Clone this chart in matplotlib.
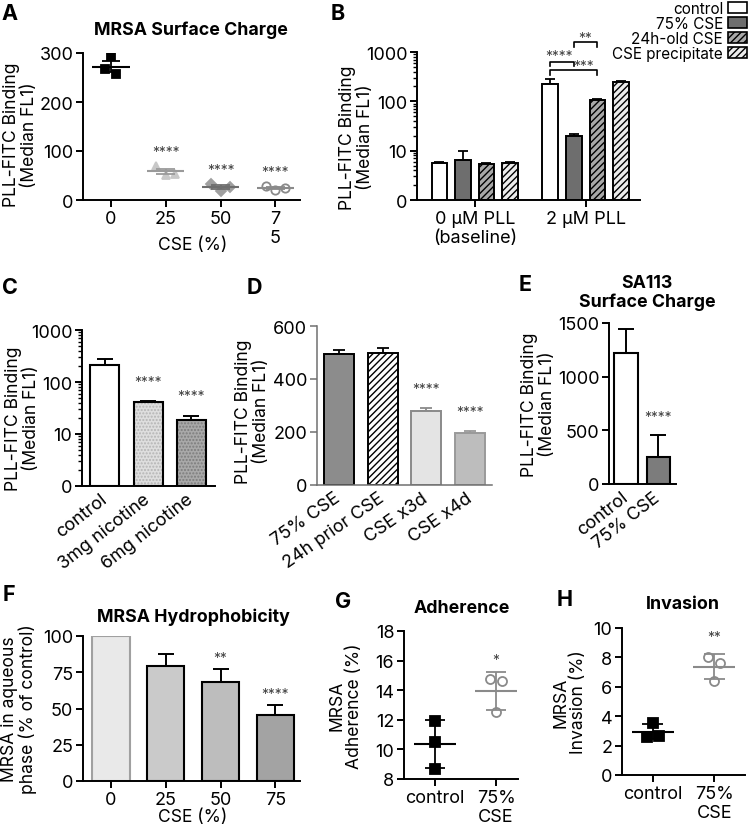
import matplotlib
matplotlib.use('Agg')
import matplotlib.pyplot as plt
import numpy as np
from matplotlib.patches import Patch

plt.rcParams['font.family'] = ['Inter', 'DejaVu Sans']
plt.rcParams['hatch.linewidth'] = 1.0

TICK_FS = 13
LAB_FS = 12.6

# ---- data ----
# A: MRSA surface charge (scatter, mean +/- SEM)
a_labels = ['0', '25', '50', '7\n5']
a_points = [[293, 267, 257], [70, 51, 54], [32, 19, 27], [29, 21, 25]]

# B: PLL binding, log scale
b_groups = ['0 µM PLL\n(baseline)', '2 µM PLL']
b_series = ['control', '75% CSE', '24h-old CSE', 'CSE precipitate']
b_control = [5.6, 222]
b_cse75 = [6.6, 19.6]
b_old = [5.4, 106]
b_precip = [5.75, 247]
b_control_err = [0.2, 66]
b_cse75_err = [3.1, 2.3]
b_old_err = [0.2, 5]
b_precip_err = [0.25, 16]

# C: nicotine
c_labels = ['control', '3mg nicotine', '6mg nicotine']
c_values = [210, 41.7, 18.2]
c_err = [67, 1.1, 4.2]

# D: CSE exposure
d_labels = ['75% CSE', '24h prior CSE', 'CSE x3d', 'CSE x4d']
d_values = [495, 498, 281, 197]
d_err = [13, 19, 9, 5]

# E: SA113
e_labels = ['control', '75% CSE']
e_values = [1217, 248]
e_err = [227, 212]

# F: hydrophobicity
f_labels = ['0', '25', '50', '75']
f_values = [100, 79.3, 68.3, 45.3]
f_err = [0, 8.5, 8.7, 7.3]

# G / H: adherence and invasion (mean +/- SD)
gh_labels = ['control', '75%\nCSE']
g_control = [11.94, 10.48, 8.68]
g_cse = [14.76, 14.64, 12.5]
h_control = [3.52, 2.61, 2.66]
h_cse = [8.05, 7.61, 6.41]

W, H = 750, 829
fig = plt.figure(figsize=(W / 100, H / 100), dpi=100)


def add_ax(l, t, r, b):
    return fig.add_axes([l / W, 1 - b / H, (r - l) / W, (b - t) / H])


def style(ax, color='black', lw=1.4):
    for s in ['top', 'right']:
        ax.spines[s].set_visible(False)
    for s in ['left', 'bottom']:
        ax.spines[s].set_linewidth(lw)
        ax.spines[s].set_color(color)
    ax.tick_params(direction='out', length=5, width=lw, labelsize=TICK_FS, pad=2, color=color)


def ylab(ax, text, right_px, l, r, yfrac=0.5):
    ax.set_ylabel(text, fontsize=LAB_FS, linespacing=1.05)
    ax.yaxis.set_label_coords((right_px - l) / (r - l), yfrac)


def stars(ax, x, y, s, off=8):
    ax.annotate(s, xy=(x, y), xytext=(0, off), textcoords='offset points',
                ha='center', va='center', fontsize=10, color='#444444')


def letter(x, y, s):
    fig.text(x / W, 1 - y / H, s, fontsize=15.5, fontweight='bold', ha='center', va='center')


def title(x, y, s):
    fig.text(x / W, 1 - y / H, s, fontsize=12.8, fontweight='bold', ha='center', va='center',
             linespacing=1.1)


# ---------------- A ----------------
ax = add_ax(83, 54, 300, 201)
style(ax)
a_x = np.arange(len(a_labels))
a_markers = [dict(marker='s', color='black', mfc='black'),
             dict(marker='^', color='#c8c8c8', mfc='#c8c8c8'),
             dict(marker='D', color='#a0a0a0', mfc='#a0a0a0'),
             dict(marker='o', color='#8a8a8a', mfc='none')]
a_line = ['black', '#9a9a9a', '#6e6e6e', '#8a8a8a']
a_jit = [[0.0, -0.1, 0.1], [-0.17, 0.0, 0.17], [-0.17, 0.0, 0.17], [-0.17, 0.0, 0.17]]
for i, pts in enumerate(a_points):
    m = a_markers[i]
    ms = 6 if m['marker'] != 'D' else 5
    ax.plot(a_x[i] + np.array(a_jit[i]), pts, ls='none', marker=m['marker'], ms=ms,
            mfc=m['mfc'], mec=m['color'], mew=1.3, zorder=3)
    mean = np.mean(pts)
    sem = np.std(pts, ddof=1) / np.sqrt(len(pts))
    ax.hlines(mean, a_x[i] - 0.34, a_x[i] + 0.34, color=a_line[i], lw=1.5, zorder=4)
    ax.vlines(a_x[i], mean - sem, mean + sem, color=a_line[i], lw=1.3, zorder=4)
    ax.hlines([mean - sem, mean + sem], a_x[i] - 0.17, a_x[i] + 0.17, color=a_line[i], lw=1.3, zorder=4)
    if i > 0:
        stars(ax, a_x[i], max(pts), '****', off=10)
ax.set_xlim(-0.51, 3.45)
ax.set_ylim(0, 300)
ax.set_yticks([0, 100, 200, 300])
ax.set_xticks(a_x)
ax.set_xticklabels(a_labels, linespacing=1.15)
ylab(ax, 'PLL-FITC Binding\n(Median FL1)', 38, 83, 300, 0.45)
fig.text(193 / W, 1 - 245 / H, 'CSE (%)', fontsize=LAB_FS, ha='center', va='center')
title(191, 30, 'MRSA Surface Charge')
letter(10, 14, 'A')

# ---------------- B ----------------
ax = add_ax(417, 53, 640, 201)
style(ax)
ax.set_yscale('log')
bx = np.arange(len(b_groups))
bw = 0.142
offs = [-0.318, -0.106, 0.106, 0.318]
b_vals = [b_control, b_cse75, b_old, b_precip]
b_errs = [b_control_err, b_cse75_err, b_old_err, b_precip_err]
b_face = ['white', '#6e6e6e', '#a8a8a8', '#ececec']
b_hatch = [None, None, '/////', '/////']
handles = []
for k in range(4):
    v = np.array(b_vals[k])
    ax.bar(bx + offs[k], v - 1, bw, bottom=1, color=b_face[k], edgecolor='black',
           linewidth=1.4, hatch=b_hatch[k], zorder=2)
    ax.errorbar(bx + offs[k], v, yerr=[np.zeros(2), b_errs[k]], fmt='none', ecolor='black',
                elinewidth=1.3, capsize=3.6, capthick=1.3, zorder=1)
    handles.append(Patch(facecolor=b_face[k], edgecolor='black', linewidth=1.2, hatch=b_hatch[k]))
ax.set_ylim(1, 1000)
ax.set_yticks([1, 10, 100, 1000])
ax.set_yticklabels(['0', '10', '100', '1000'])
ax.tick_params(which='minor', direction='out', length=3, width=1.0)
ax.set_xlim(-0.52, 1.49)
ax.set_xticks(bx)
ax.set_xticklabels(b_groups, linespacing=1.15)
ylab(ax, 'PLL-FITC Binding\n(Median FL1)', 374, 417, 640, 0.43)
tr = ax.get_xaxis_transform()
xc, x75, xold = 1 + offs[0], 1 + offs[1], 1 + offs[2]
ax.plot([xc, xc, x75, x75], [0.907, 0.934, 0.934, 0.907], color='black', lw=1.2, transform=tr, clip_on=False)
ax.plot([xc, xc, xold, xold], [0.845, 0.880, 0.880, 0.845], color='black', lw=1.2, transform=tr, clip_on=False)
ax.plot([x75, x75, xold, xold], [1.032, 1.066, 1.066, 1.032], color='black', lw=1.2, transform=tr, clip_on=False)
ax.text(0.757, 0.975, '****', transform=tr, ha='center', va='center', fontsize=10, color='#444444')
ax.text(0.978, 0.905, '***', transform=tr, ha='center', va='center', fontsize=10, color='#444444')
ax.text(0.996, 1.095, '**', transform=tr, ha='center', va='center', fontsize=10, color='#444444')
fig.legend(handles, b_series, loc='upper right', bbox_to_anchor=(749 / W, 1.0), frameon=False,
           markerfirst=False, fontsize=11, labelspacing=0.0, handlelength=1.3, handleheight=0.75,
           handletextpad=0.3, borderpad=0.1, borderaxespad=0)
letter(338, 14, 'B')

# ---------------- C ----------------
ax = add_ax(82, 331, 215, 487)
style(ax)
ax.set_yscale('log')
cx = np.arange(len(c_labels))
c_face = ['white', '#dedede', '#a9a9a9']
c_dot = ['white', '#b4b4b4', '#7c7c7c']
c_v = np.array(c_values)
ax.bar(cx, c_v - 1, 0.67, bottom=1, color=c_face, edgecolor=c_dot, linewidth=0,
       hatch='.....', zorder=2)
ax.bar(cx, c_v - 1, 0.67, bottom=1, color='none', edgecolor='black', linewidth=1.5, zorder=3)
ax.errorbar(cx, c_v, yerr=[np.zeros(3), c_err], fmt='none', ecolor='black',
            elinewidth=1.4, capsize=5.6, capthick=1.4, zorder=1)
for i in [1, 2]:
    stars(ax, cx[i], c_values[i] + c_err[i], '****', off=14)
ax.set_ylim(1, 1000)
ax.set_yticks([1, 10, 100, 1000])
ax.set_yticklabels(['0', '10', '100', '1000'])
ax.tick_params(which='minor', direction='out', length=3, width=1.0)
ax.set_xlim(-0.53, 2.55)
ax.set_xticks(cx)
ax.set_xticklabels(c_labels, rotation=38, ha='right', va='center', rotation_mode='anchor')
ax.tick_params(axis='x', length=0, pad=8)
ylab(ax, 'PLL-FITC Binding\n(Median FL1)', 40, 82, 215, 0.44)
letter(10, 288, 'C')

# ---------------- D ----------------
ax = add_ax(317, 327, 492, 486)
style(ax, color='#707070', lw=1.1)
dx = np.arange(len(d_labels))
d_face = ['#8c8c8c', 'white', '#e4e4e4', '#bdbdbd']
d_edge = ['black', 'black', '#8a8a8a', '#9a9a9a']
d_hatch = [None, '/////', None, None]
for i in range(4):
    ax.bar(dx[i], d_values[i], 0.69, color=d_face[i], edgecolor=d_edge[i], linewidth=1.4,
           hatch=d_hatch[i], zorder=2)
    ax.errorbar(dx[i], d_values[i], yerr=[[0], [d_err[i]]], fmt='none', ecolor=d_edge[i],
                elinewidth=1.3, capsize=4.3, capthick=1.3, zorder=1)
for i in [2, 3]:
    stars(ax, dx[i], d_values[i] + d_err[i], '****', off=14)
ax.set_ylim(0, 600)
ax.set_yticks([0, 200, 400, 600])
ax.set_xlim(-0.5, 3.5)
ax.set_xticks(dx)
ax.set_xticklabels(d_labels, rotation=35, ha='right', va='center', rotation_mode='anchor')
ax.tick_params(axis='x', length=0, pad=8)
ax.tick_params(axis='y', labelcolor='black')
ylab(ax, 'PLL-FITC Binding\n(Median FL1)', 270, 317, 492, 0.47)
letter(254, 288, 'D')

# ---------------- E ----------------
ax = add_ax(609, 324, 676, 485)
style(ax)
ex = np.arange(len(e_labels))
ax.bar(ex, e_values, 0.72, color=['white', '#7c7c7c'], edgecolor='black', linewidth=1.5, zorder=2)
ax.errorbar(ex, e_values, yerr=[np.zeros(2), e_err], fmt='none', ecolor='black',
            elinewidth=1.4, capsize=5.6, capthick=1.4, zorder=1)
stars(ax, ex[1], e_values[1] + e_err[1], '****', off=13)
ax.set_ylim(0, 1500)
ax.set_yticks([0, 500, 1000, 1500])
ax.set_xlim(-0.53, 1.56)
ax.set_xticks(ex)
ax.set_xticklabels(e_labels, rotation=38, ha='right', va='center', rotation_mode='anchor')
ax.tick_params(axis='x', length=0, pad=8)
ylab(ax, 'PLL-FITC Binding\n(Median FL1)', 556, 609, 676, 0.5)
title(647, 293, 'SA113\nSurface Charge')
letter(525, 285, 'E')

# ---------------- F ----------------
ax = add_ax(83, 637, 300, 782)
style(ax)
fx = np.arange(len(f_labels))
f_face = ['#e9e9e9', '#cacaca', '#bdbdbd', '#a3a3a3']
f_edge = ['#a0a0a0', 'black', 'black', 'black']
for i in range(4):
    ax.bar(fx[i], f_values[i], 0.68, color=f_face[i], edgecolor=f_edge[i], linewidth=1.5, zorder=2)
ax.errorbar(fx[1:], f_values[1:], yerr=[np.zeros(3), f_err[1:]], fmt='none', ecolor='black',
            elinewidth=1.4, capsize=5.8, capthick=1.4, zorder=1)
stars(ax, fx[2], f_values[2] + f_err[2], '**', off=8)
stars(ax, fx[3], f_values[3] + f_err[3], '****', off=8)
ax.set_ylim(0, 100)
ax.set_yticks([0, 25, 50, 75, 100])
ax.set_xlim(-0.51, 3.45)
ax.set_xticks(fx)
ax.set_xticklabels(f_labels)
ylab(ax, 'MRSA in aqueous\nphase (% of control)', 37, 83, 300)
fig.text(193 / W, 1 - 818 / H, 'CSE (%)', fontsize=LAB_FS, ha='center', va='center')
title(193, 617, 'MRSA Hydrophobicity')
letter(9, 595, 'F')


# ---------------- G / H ----------------
def dot_panel(ax, ctrl, cse, jit_c, jit_e):
    for i, (pts, jit) in enumerate([(ctrl, jit_c), (cse, jit_e)]):
        col = 'black' if i == 0 else '#8a8a8a'
        mfc = 'black' if i == 0 else 'none'
        mk = 's' if i == 0 else 'o'
        ax.plot(i + np.array(jit), pts, ls='none', marker=mk, ms=6.5, mfc=mfc, mec=col, mew=1.3, zorder=3)
        mean = np.mean(pts)
        sd = np.std(pts, ddof=1)
        ax.hlines(mean, i - 0.34, i + 0.34, color=col, lw=1.5, zorder=4)
        ax.vlines(i, mean - sd, mean + sd, color=col, lw=1.3, zorder=4)
        ax.hlines([mean - sd, mean + sd], i - 0.17, i + 0.17, color=col, lw=1.3, zorder=4)


ax = add_ax(404, 632, 518, 780)
style(ax)
dot_panel(ax, g_control, g_cse, [0, 0, 0], [-0.1, 0.1, 0.0])
stars(ax, 1, max(g_cse), '*', off=14)
ax.set_ylim(8, 18)
ax.set_yticks([8, 10, 12, 14, 16, 18])
ax.set_xlim(-0.51, 1.36)
ax.set_xticks([0, 1])
ax.set_xticklabels(gh_labels, linespacing=1.15)
ylab(ax, 'MRSA\nAdherence (%)', 363, 404, 518)
title(462, 609, 'Adherence')
letter(343, 602, 'G')

ax = add_ax(622, 629, 745, 776)
style(ax)
dot_panel(ax, h_control, h_cse, [0, -0.095, 0.095], [-0.1, 0.1, 0.0])
stars(ax, 1, max(h_cse), '**', off=14)
ax.set_ylim(0, 10)
ax.set_yticks([0, 2, 4, 6, 8, 10])
ax.set_xlim(-0.5, 1.5)
ax.set_xticks([0, 1])
ax.set_xticklabels(gh_labels, linespacing=1.15)
ylab(ax, 'MRSA\nInvasion (%)', 587, 622, 745)
title(683, 605, 'Invasion')
letter(565, 600, 'H')

fig.savefig('out.png', dpi=100)
